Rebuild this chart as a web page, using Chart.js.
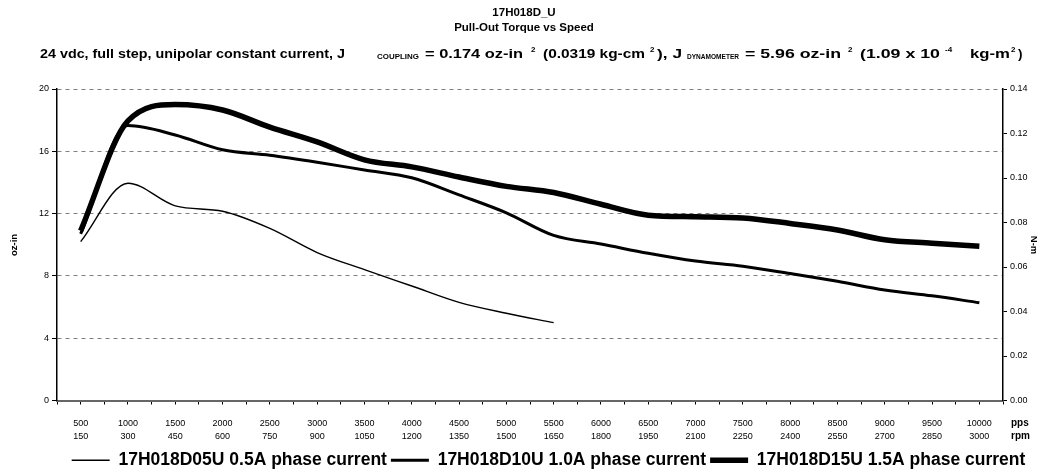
<!DOCTYPE html>
<html>
<head>
<meta charset="utf-8">
<script src="https://cdn.jsdelivr.net/npm/chart.js@4.4.1/dist/chart.umd.min.js"></script>
<style>
html,body{margin:0;padding:0;background:#fff;}
#wrap{width:1047px;height:474px;position:relative;}
</style>
</head>
<body>
<div id="wrap"><canvas id="c" width="1047" height="474"></canvas></div>
<script>
// ---- data ----
const speedsPps = [500,1000,1500,2000,2500,3000,3500,4000,4500,5000,5500,6000,6500,7000,7500,8000,8500,9000,9500,10000];
const speedsRpm = [150,300,450,600,750,900,1050,1200,1350,1500,1650,1800,1950,2100,2250,2400,2550,2700,2850,3000];
const torque05A = [10.2,13.95,12.5,12.15,11.05,9.5,8.4,7.35,6.3,5.6,5.0];
const torque10A = [10.7,17.65,17.05,16.1,15.75,15.3,14.8,14.3,13.2,12.05,10.6,10.05,9.45,8.95,8.62,8.15,7.65,7.1,6.72,6.28];
const torque15A = [10.9,17.95,19.0,18.65,17.55,16.6,15.45,15.0,14.35,13.75,13.35,12.6,11.9,11.8,11.72,11.37,10.95,10.32,10.1,9.9];
const seriesNames = ['17H018D05U 0.5A phase current','17H018D10U 1.0A phase current','17H018D15U 1.5A phase current'];
const seriesWidths = [1.4, 3, 5.5];
const ozInTicks = [0,4,8,12,16,20];
const nmTicks = [0.00,0.02,0.04,0.06,0.08,0.10,0.12,0.14];
const titleLines = ['17H018D_U','Pull-Out Torque vs Speed'];

const FONT = '"Liberation Sans", Arial, sans-serif';

function toPoints(vals){ return vals.map((v,i)=>({x: speedsPps[i], y: v})); }

const datasets = [torque05A, torque10A, torque15A].map((vals,i)=>({
  label: seriesNames[i],
  data: toPoints(vals),
  borderColor: '#000',
  backgroundColor: '#000',
  borderWidth: seriesWidths[i],
  pointRadius: 0,
  pointHoverRadius: 0,
  fill: false,
  cubicInterpolationMode: 'monotone',
  pointStyle: 'line'
}));

// subtitle segments: [text, kind, left x, target width]  kind: m=main, sub=subscript, sup=superscript
const subtitleParts = [
  ['24 vdc, full step, unipolar constant current, J','m', 40, 305],
  ['COUPLING','sub', 377, 42],
  ['= 0.174 oz-in','m', 425, 98],
  ['2','sup', 531, 0],
  ['(0.0319 kg-cm','m', 543, 102],
  ['2','sup', 650, 0],
  ['), J','m', 657, 25],
  ['DYNAMOMETER','sub', 687, 52],
  ['= 5.96 oz-in','m', 745, 96],
  ['2','sup', 848, 0],
  ['(1.09 x 10','m', 860, 80],
  ['-4','sup', 945, 0],
  ['kg-m','m', 970, 40],
  ['2','sup', 1011, 0],
  [')','m', 1018, 0]
];

const decorPlugin = {
  id: 'decor',
  afterLayout(chart){
    const lg = chart.legend;
    if (lg) { lg.left += 25; lg.right += 25; lg.top += 5; lg.bottom += 5; }
  },
  afterDraw(chart){
    const ctx = chart.ctx;
    ctx.save();
    ctx.fillStyle = '#000';
    // titles
    ctx.textAlign = 'center';
    ctx.textBaseline = 'middle';
    ctx.font = 'bold 11.5px ' + FONT;
    ctx.fillText(titleLines[0], 524, 13);
    ctx.fillText(titleLines[1], 524, 28);
    // subtitle
    const fonts = {m:'bold 13.5px ' + FONT, sub:'bold 6.5px ' + FONT, sup:'bold 8px ' + FONT};
    const offs = {m:0, sub:1, sup:-6};
    ctx.textAlign = 'left';
    ctx.textBaseline = 'alphabetic';
    subtitleParts.forEach(p=>{
      ctx.font = fonts[p[1]];
      const nat = ctx.measureText(p[0]).width;
      const sx = p[3] > 0 ? p[3] / nat : 1;
      ctx.save();
      ctx.translate(p[2], 58 + offs[p[1]]);
      ctx.scale(sx, 1);
      ctx.fillText(p[0], 0, 0);
      ctx.restore();
    });
    // axis titles
    ctx.font = 'bold 9.5px ' + FONT;
    ctx.textAlign = 'center';
    ctx.textBaseline = 'middle';
    ctx.save();
    ctx.translate(14, 245);
    ctx.rotate(-Math.PI/2);
    ctx.fillText('oz-in', 0, 0);
    ctx.restore();
    ctx.save();
    ctx.translate(1034, 245);
    ctx.rotate(Math.PI/2);
    ctx.fillText('N-m', 0, 0);
    ctx.restore();
    // pps / rpm unit labels
    ctx.font = 'bold 10px ' + FONT;
    ctx.textAlign = 'left';
    ctx.fillText('pps', 1011, 423);
    ctx.fillText('rpm', 1011, 436);
    ctx.restore();
  }
};

new Chart(document.getElementById('c'), {
  type: 'line',
  data: { datasets },
  options: {
    responsive: false,
    animation: false,
    events: [],
    layout: { padding: { top: 89, left: 0, right: 0, bottom: 0 } },
    plugins: {
      title: { display: false },
      tooltip: { enabled: false },
      legend: {
        display: true,
        position: 'bottom',
        labels: {
          usePointStyle: true,
          pointStyle: 'line',
          pointStyleWidth: 38,
          color: '#000',
          padding: 4,
          font: { family: FONT, size: 17.5, weight: 'bold' }
        }
      }
    },
    scales: {
      x: {
        type: 'linear',
        min: 250,
        max: 10250,
        afterBuildTicks(scale){
          const t = [];
          for (let v = 250; v <= 10250; v += 250) t.push({value: v});
          scale.ticks = t;
        },
        afterFit(scale){ scale.height = 42; },
        ticks: {
          autoSkip: false,
          maxRotation: 0,
          minRotation: 0,
          padding: 12,
          color: '#000',
          font: { family: FONT, size: 9, lineHeight: 1.45 },
          callback(v){
            const i = speedsPps.indexOf(v);
            return i >= 0 ? [String(speedsPps[i]), String(speedsRpm[i])] : '';
          }
        },
        grid: { drawOnChartArea: false, drawTicks: true, tickLength: 4, color: '#000', lineWidth: 1 },
        border: { display: true, color: '#666', width: 2 }
      },
      y: {
        position: 'left',
        min: 0,
        max: 20,
        afterBuildTicks(scale){ scale.ticks = ozInTicks.map(v=>({value:v})); },
        afterFit(scale){ scale.width = 57; },
        ticks: { color: '#000', padding: 3, font: { family: FONT, size: 9 } },
        grid: { color: '#808080', lineWidth: 1, tickLength: 5, tickColor: '#000' },
        border: { display: true, color: '#000', width: 1.5, dash: [4,4] }
      },
      y1: {
        position: 'right',
        min: 0,
        max: 0.14,
        afterBuildTicks(scale){ scale.ticks = nmTicks.map(v=>({value:v})); },
        afterFit(scale){ scale.width = 44; },
        ticks: { color: '#000', padding: 3, font: { family: FONT, size: 9 }, callback: v => Number(v).toFixed(2) },
        grid: { drawOnChartArea: false, tickLength: 4, color: '#000' },
        border: { display: true, color: '#000', width: 1.5 }
      }
    }
  },
  plugins: [decorPlugin]
});
</script>
</body>
</html>
